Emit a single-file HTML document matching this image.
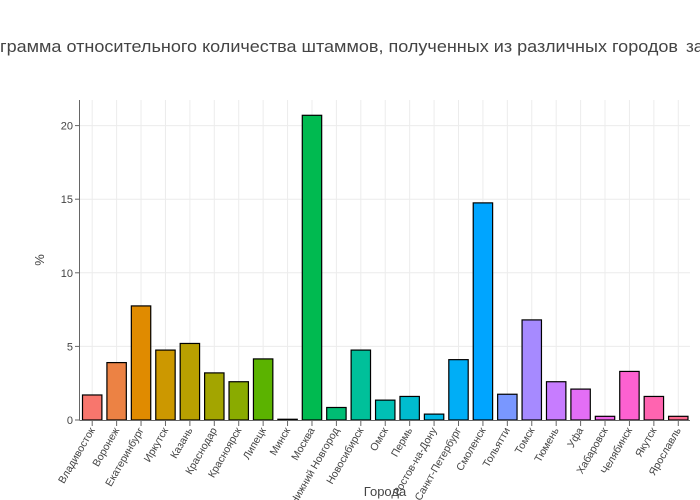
<!DOCTYPE html>
<html><head><meta charset="utf-8"><style>body{margin:0;background:#fff}svg{display:block}</style></head>
<body>
<svg width="700" height="500" xmlns="http://www.w3.org/2000/svg" font-family="'Liberation Sans', sans-serif">
<text x="0" y="52" font-size="17" fill="#444" textLength="678" lengthAdjust="spacingAndGlyphs">грамма относительного количества штаммов, полученных из различных городов</text>
<text x="686" y="52" font-size="17" fill="#444">за</text>
<g id="grid" stroke="#ececec" stroke-width="1"></g>
<g id="bars" stroke="#000" stroke-width="1.2"></g>
<line x1="79.5" y1="100" x2="79.5" y2="420" stroke="#666"/>
<line x1="79.5" y1="420.5" x2="690" y2="420.5" stroke="#666"/>
<g id="yt" font-size="11" fill="#444" text-anchor="end"></g>
<g id="xt" font-size="10.5" fill="#444" text-anchor="end"></g>
<text x="44" y="260" font-size="13" fill="#444" text-anchor="middle" transform="rotate(-90 44 260)">%</text>
<text x="385" y="496" font-size="13" fill="#444" text-anchor="middle">Города</text>
<script>
var names=["Владивосток","Воронеж","Екатеринбург","Иркутск","Казань","Краснодар","Красноярск","Липецк","Минск","Москва","Нижний Новгород","Новосибирск","Омск","Пермь","Ростов-на-Дону","Санкт-Петербург","Смоленск","Тольятти","Томск","Тюмень","Уфа","Хабаровск","Челябинск","Якутск","Ярославль"];
var vals=[1.7,3.9,7.75,4.75,5.2,3.2,2.6,4.15,0.05,20.7,0.85,4.75,1.35,1.6,0.4,4.1,14.75,1.75,6.8,2.6,2.1,0.25,3.3,1.6,0.25];
var cols=["#F8766D","#EC8244","#E08B00","#CC9800","#B9A000","#A3A500","#8AAB00","#5BB300","#00B81F","#00BA50","#00BD74","#00C09A","#00C0B5","#00BCCF","#00B8E5","#00AEF6","#00A5FF","#7997FF","#A68AFF","#C77CFF","#E36EF6","#F066EA","#FD61D1","#FF64B0","#FF6C91"];
var ns="http://www.w3.org/2000/svg";
function el(t,a,p){var e=document.createElementNS(ns,t);for(var k in a)e.setAttribute(k,a[k]);document.getElementById(p).appendChild(e);return e;}
var y0=420,s=14.72;
for(var v=0;v<=20;v+=5){var y=y0-v*s;if(v>0)el("line",{x1:80,x2:690,y1:y,y2:y},"grid");
el("line",{x1:75,x2:80,y1:y,y2:y,stroke:"#666"},"yt");var t=el("text",{x:73,y:y+4},"yt");t.textContent=v;}
for(var i=0;i<25;i++){var cx=92.2+i*24.42;
el("line",{x1:cx,x2:cx,y1:100,y2:420},"grid");
var h=vals[i]*s;el("rect",{x:cx-9.7,y:y0-h,width:19.4,height:h,fill:cols[i]},"bars");
el("line",{x1:cx,x2:cx,y1:421,y2:426,stroke:"#666"},"xt");
var t=el("text",{x:cx+3,y:430,transform:"rotate(-60 "+(cx+3)+" 430)"},"xt");t.textContent=names[i];}
</script>
</svg>
</body></html>
